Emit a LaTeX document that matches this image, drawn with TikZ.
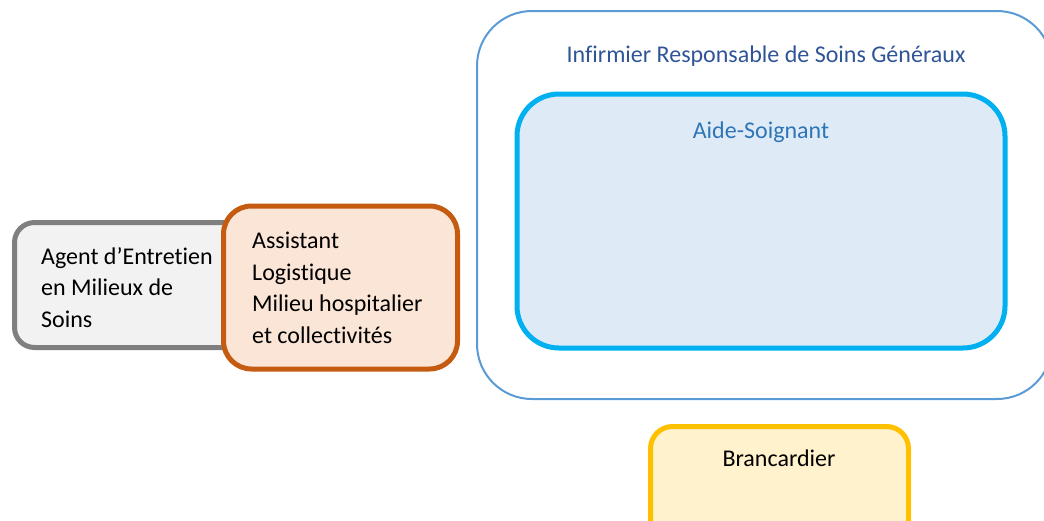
\documentclass[tikz,border=0pt]{standalone}
\usepackage{fontspec}
\setmainfont[Ligatures=NoCommon]{Carlito}
\definecolor{irsgline}{HTML}{5B9BD5}
\definecolor{irsgtext}{HTML}{2F5597}
\definecolor{asline}{HTML}{00B0F0}
\definecolor{asfill}{HTML}{DEEBF7}
\definecolor{astext}{HTML}{2E75B6}
\definecolor{agentline}{HTML}{7F7F7F}
\definecolor{agentfill}{HTML}{F2F2F2}
\definecolor{alline}{HTML}{C55A11}
\definecolor{alfill}{HTML}{FBE5D6}
\definecolor{brline}{HTML}{FFC000}
\definecolor{brfill}{HTML}{FFF2CC}
\begin{document}
\begin{tikzpicture}[x=1pt, y=-1pt,
  jobbox/.style={draw, rectangle, inner sep=0pt, line width=5pt},
  jobtext/.style={font=\fontsize{24}{31.5}\selectfont, inner sep=0pt}]
  \useasboundingbox (0,0) rectangle (1044,520);
  \clip (0,0) rectangle (1044,520);
  % \draw[help lines, step=50] (0,0) grid (1044,520);

  % Infirmier Responsable de Soins Generaux, outer frame
  \node[jobbox, draw=irsgline, line width=2pt, rounded corners=55pt,
    minimum width=575pt, minimum height=388pt] (irsg) at (764.5, 205) {};
  \node[jobtext, text=irsgtext] (irsglabel) at (766, 56) {Infirmier Responsable de Soins Généraux};

  % Aide-Soignant, inside the frame
  \node[jobbox, draw=asline, fill=asfill, rounded corners=42pt,
    minimum width=488pt, minimum height=254pt] (as) at (761, 221) {};
  \node[jobtext, text=astext] (aslabel) at (761, 132) {Aide-Soignant};

  % Agent d'Entretien, behind the Assistant box
  \node[jobbox, draw=agentline, fill=agentfill, rounded corners=20pt,
    minimum width=246pt, minimum height=125pt] (aems) at (137.5, 285) {};
  \node[jobtext, align=left, anchor=west] (aemslabel) at (41, 287.5)
    {Agent d’Entretien\\en Milieux de\\Soins};

  % Assistant Logistique
  \node[jobbox, draw=alline, fill=alfill, rounded corners=28pt,
    minimum width=234pt, minimum height=163pt] (al) at (340.5, 287.5) {};
  \node[jobtext, align=left, anchor=west] (allabel) at (252, 288)
    {Assistant\\Logistique\\Milieu hospitalier\\et collectivités};

  % Brancardier, cut by the lower edge
  \node[jobbox, draw=brline, fill=brfill, rounded corners=22pt,
    minimum width=258pt, minimum height=120pt] (br) at (779.5, 486.5) {};
  \node[jobtext] (brlabel) at (779, 458) {Brancardier};
\end{tikzpicture}
\end{document}
